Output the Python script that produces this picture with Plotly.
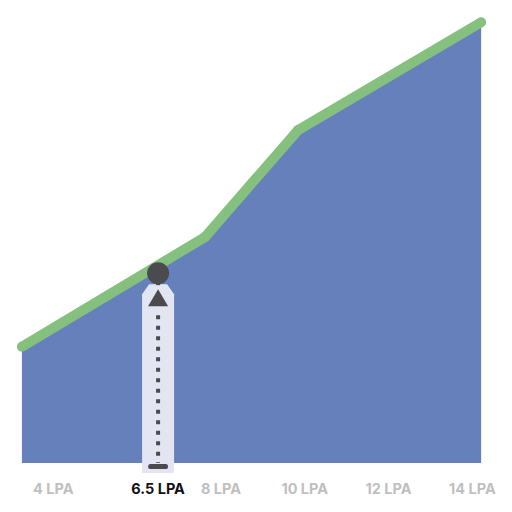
import plotly.graph_objects as go

# curve vertices (salary in LPA vs relative level)
salary_lpa = [3.25, 7.62, 9.84, 14.21]
curve_value = [25.1, 48.8, 71.9, 95.2]

# x axis ticks
tick_lpa = [4, 6.5, 8, 10, 12, 14]
tick_labels = ["4 LPA", "6.5 LPA", "8 LPA", "10 LPA", "12 LPA", "14 LPA"]

# highlighted point
highlight_lpa = 6.5
highlight_value = 41.0

BLUE = "#6580BB"
GREEN = "#85C07E"
BAND = "#E3E5F3"
DARK = "#4A4A4F"
GREY = "#BFBFBF"


def main():
    ticktext = []
    for v, lab in zip(tick_lpa, tick_labels):
        if v == highlight_lpa:
            ticktext.append(f"<span style='color:#111111'><b>{lab}</b></span>")
        else:
            ticktext.append(f"<b>{lab}</b>")

    fig = go.Figure()

    # filled area
    fig.add_trace(go.Scatter(
        x=salary_lpa, y=curve_value, mode="lines",
        line=dict(width=0, color=BLUE),
        fill="tozeroy", fillcolor=BLUE, hoverinfo="skip",
    ))
    # green top line
    fig.add_trace(go.Scatter(
        x=salary_lpa, y=curve_value, mode="lines+markers",
        line=dict(width=10, color=GREEN),
        marker=dict(size=10, color=GREEN),
        hoverinfo="skip",
    ))
    # highlight dot
    fig.add_trace(go.Scatter(
        x=[highlight_lpa], y=[highlight_value], mode="markers",
        marker=dict(size=22, color=DARK),
        hoverinfo="skip",
    ))

    shapes = [
        # lavender band with chamfered top
        dict(type="path", xref="x", yref="y", layer="above",
             xsizemode="pixel", ysizemode="pixel",
             xanchor=highlight_lpa, yanchor=highlight_value,
             path="M -16,-21 L -9,-11 L 9,-11 L 16,-21 L 16,-300 L -16,-300 Z",
             fillcolor=BAND, line=dict(width=0)),
        # dotted stem
        dict(type="line", xref="x", yref="y", layer="above",
             xsizemode="pixel", xanchor=highlight_lpa, x0=0, x1=0,
             y0=highlight_value, y1=0,
             line=dict(color=DARK, width=4, dash="4px,6.5px")),
        # cover top of stem
        dict(type="rect", xref="x", yref="y", layer="above",
             xsizemode="pixel", ysizemode="pixel",
             xanchor=highlight_lpa, yanchor=highlight_value,
             x0=-6, x1=6, y0=-12, y1=-36,
             fillcolor=BAND, line=dict(width=0)),
        # arrow head
        dict(type="path", xref="x", yref="y", layer="above",
             xsizemode="pixel", ysizemode="pixel",
             xanchor=highlight_lpa, yanchor=highlight_value,
             path="M -10,-33 L 0,-16 L 10,-33 Z",
             fillcolor=DARK, line=dict(width=0)),
        # base marker
        dict(type="path", xref="x", yref="y", layer="above",
             xsizemode="pixel", ysizemode="pixel",
             xanchor=highlight_lpa, yanchor=0,
             path="M -8,-1 L 8,-1 Q 10,-1 10,-3.5 Q 10,-6 8,-6 L -8,-6 Q -10,-6 -10,-3.5 Q -10,-1 -8,-1 Z",
             fillcolor=DARK, line=dict(width=0)),
    ]

    # page body adds an 8px margin, so the figure is 496px and the axes are offset
    fig.update_layout(
        width=496, height=496,
        margin=dict(l=0, r=0, t=0, b=31),
        paper_bgcolor="white", plot_bgcolor="white",
        showlegend=False,
        shapes=shapes,
        font=dict(family="Inter", size=14.5, color=GREY),
        xaxis=dict(
            range=[2.918, 14.755],
            tickvals=tick_lpa, ticktext=ticktext,
            showgrid=False, zeroline=False, showline=False,
            ticks="", ticklabelstandoff=5, fixedrange=True,
        ),
        yaxis=dict(
            range=[-2.16, 98.27],
            visible=False, showgrid=False, zeroline=False, fixedrange=True,
        ),
    )

    fig.write_html("out.html")


if __name__ == "__main__":
    main()
